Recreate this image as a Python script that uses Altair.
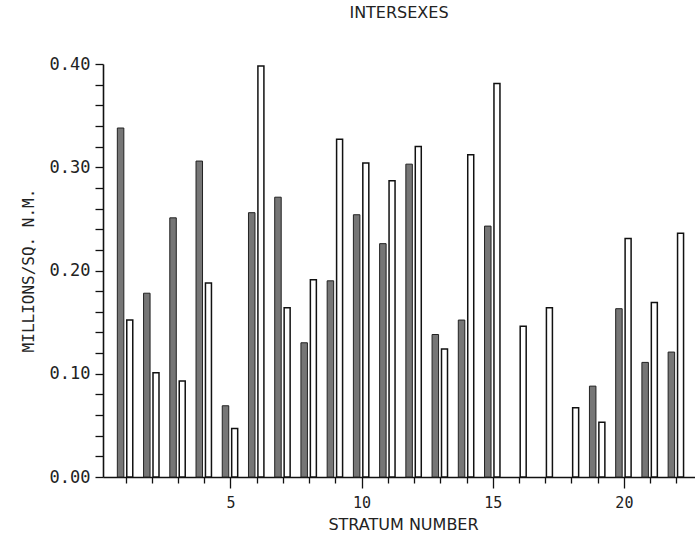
import altair as alt
import pandas as pd

strata = list(range(1, 23))
dark_values = [0.338, 0.178, 0.251, 0.306, 0.069, 0.256, 0.271, 0.130, 0.190, 0.254, 0.226,
               0.303, 0.138, 0.152, 0.243, 0.0, 0.0, 0.0, 0.088, 0.163, 0.111, 0.121]
light_values = [0.152, 0.101, 0.093, 0.188, 0.047, 0.398, 0.164, 0.191, 0.327, 0.304, 0.287,
                0.320, 0.124, 0.312, 0.381, 0.146, 0.164, 0.067, 0.053, 0.231, 0.169, 0.236]
x_ticks = list(range(1, 23))
y_ticks = [round(i * 0.02, 2) for i in range(21)]

rows = []
for s, d, l in zip(strata, dark_values, light_values):
    rows.append({"stratum": s, "series": "dark", "value": d})
    rows.append({"stratum": s, "series": "light", "value": l})
df = pd.DataFrame(rows)

FONT = "DejaVu Sans"
MONO = "DejaVu Sans Mono"

xscale = alt.Scale(domain=[0.33, 22.52], nice=False, zero=False)
yscale = alt.Scale(domain=[0, 0.40], nice=False)

xaxis = alt.Axis(
    values=x_ticks,
    labelExpr="datum.value % 5 === 0 ? datum.label : ''",
    tickSize={"condition": {"test": "datum.value % 5 === 0", "value": 11}, "value": 6},
    tickColor="#111", tickWidth=1.3, domainColor="#111", domainWidth=1.6,
    grid=False, labelFont=MONO, labelFontSize=15, labelColor="#222",
    labelPadding=7, labelFlush=False,
    title="STRATUM NUMBER", titleFont=FONT, titleFontSize=16, titleFontWeight="normal",
    titleColor="#222", titleX=300, titleY=47, titleBaseline="middle", titleAnchor="middle",
)
yaxis = alt.Axis(
    values=y_ticks,
    labelExpr="abs(datum.value*10 - round(datum.value*10)) < 0.001 ? format(datum.value, '.2f') : ''",
    tickSize=8, tickColor="#111", tickWidth=1.3, domainColor="#111", domainWidth=1.6,
    grid=False, labelFont=MONO, labelFontSize=17, labelColor="#222", labelPadding=5,
    title="MILLIONS/SQ. N.M.", titleFont=MONO, titleFontSize=16, titleFontWeight="normal",
    titleColor="#222", titleX=-75, titleY=206, titleAngle=270, titleBaseline="middle",
    titleAlign="center",
)

base = alt.Chart(df).transform_filter("datum.value > 0").transform_calculate(
    xpos="datum.stratum + (datum.series === 'dark' ? -0.19 : 0.16)"
)

dark = base.transform_filter("datum.series === 'dark'").mark_bar(
    size=6.5, fill="#767676", stroke="#222", strokeWidth=1
).encode(
    x=alt.X("xpos:Q", scale=xscale, axis=xaxis),
    y=alt.Y("value:Q", scale=yscale, axis=yaxis),
)
light = base.transform_filter("datum.series === 'light'").mark_bar(
    size=6, fill="white", stroke="#111", strokeWidth=1.5
).encode(
    x=alt.X("xpos:Q", scale=xscale, axis=xaxis),
    y=alt.Y("value:Q", scale=yscale, axis=yaxis),
)

chart = alt.layer(dark, light).properties(
    width=592, height=413,
    background="white",
    autosize=alt.AutoSizeParams(type="none"),
    padding={"left": 103, "top": 64, "right": 0, "bottom": 64},
    title=alt.TitleParams("INTERSEXES", font=FONT, fontSize=16, fontWeight="normal",
                          color="#222", anchor="middle", offset=34),
).configure_view(strokeWidth=0, stroke="transparent")

chart.save("out.html", embed_options={"renderer": "svg", "actions": False})
